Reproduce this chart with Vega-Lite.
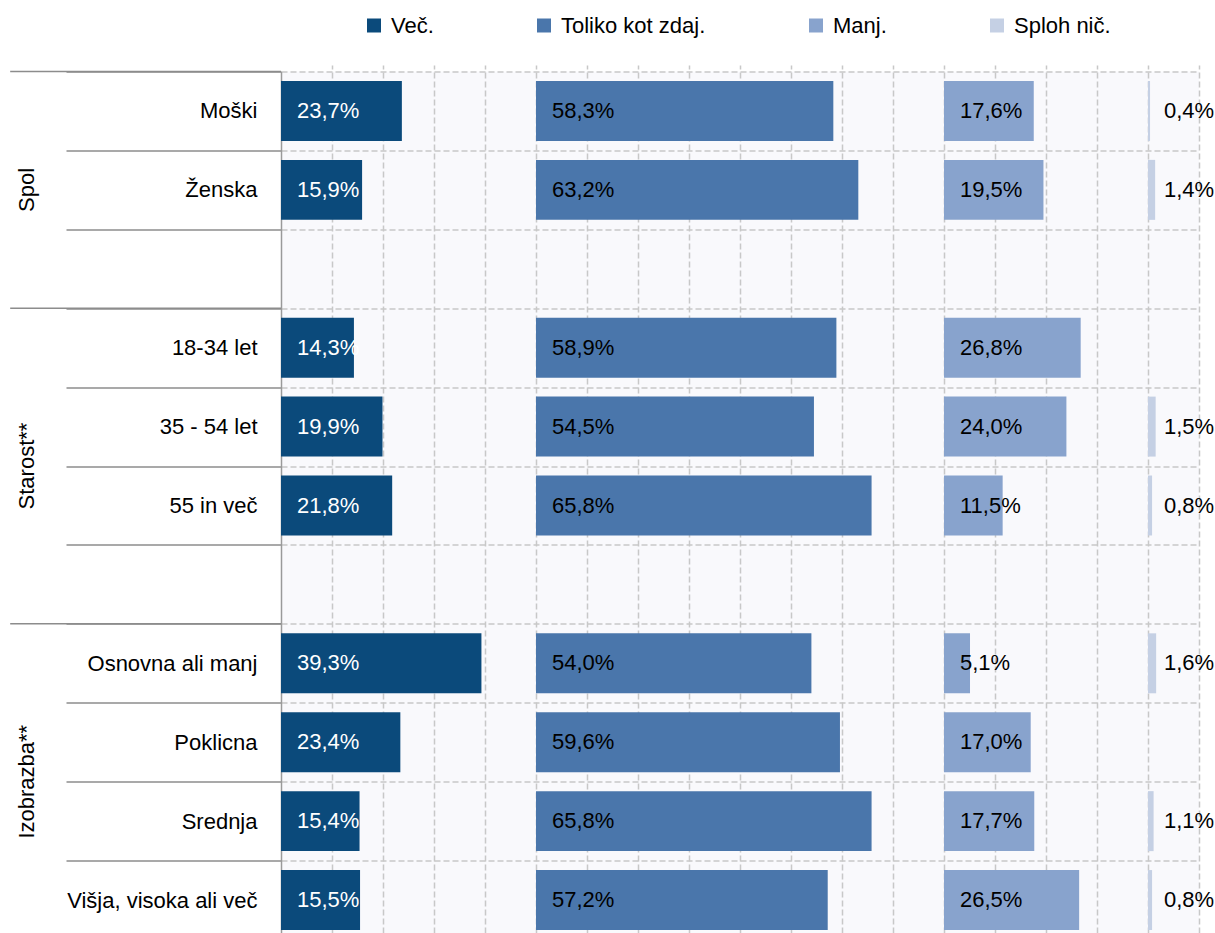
{
  "$schema": "https://vega.github.io/schema/vega-lite/v6.json",
  "width": 918,
  "height": 861.5,
  "autosize": {"type": "none"},
  "padding": {"left": 281, "top": 71.5, "right": 16, "bottom": 0},
  "background": "#ffffff",
  "config": {
    "font": "Liberation Sans",
    "view": {"fill": "#f9f9fc", "stroke": null},
    "locale": {"number": {"decimal": ",", "thousands": ".", "grouping": [3], "currency": ["", " €"]}}
  },
  "data": {
    "values": [
      {"label": "Moški", "series": "Več.", "value": 0.237},
      {"label": "Moški", "series": "Toliko kot zdaj.", "value": 0.583},
      {"label": "Moški", "series": "Manj.", "value": 0.176},
      {"label": "Moški", "series": "Sploh nič.", "value": 0.004},
      {"label": "Ženska", "series": "Več.", "value": 0.159},
      {"label": "Ženska", "series": "Toliko kot zdaj.", "value": 0.632},
      {"label": "Ženska", "series": "Manj.", "value": 0.195},
      {"label": "Ženska", "series": "Sploh nič.", "value": 0.014},
      {"label": "18-34 let", "series": "Več.", "value": 0.143},
      {"label": "18-34 let", "series": "Toliko kot zdaj.", "value": 0.589},
      {"label": "18-34 let", "series": "Manj.", "value": 0.268},
      {"label": "35 - 54 let", "series": "Več.", "value": 0.199},
      {"label": "35 - 54 let", "series": "Toliko kot zdaj.", "value": 0.545},
      {"label": "35 - 54 let", "series": "Manj.", "value": 0.240},
      {"label": "35 - 54 let", "series": "Sploh nič.", "value": 0.015},
      {"label": "55 in več", "series": "Več.", "value": 0.218},
      {"label": "55 in več", "series": "Toliko kot zdaj.", "value": 0.658},
      {"label": "55 in več", "series": "Manj.", "value": 0.115},
      {"label": "55 in več", "series": "Sploh nič.", "value": 0.008},
      {"label": "Osnovna ali manj", "series": "Več.", "value": 0.393},
      {"label": "Osnovna ali manj", "series": "Toliko kot zdaj.", "value": 0.540},
      {"label": "Osnovna ali manj", "series": "Manj.", "value": 0.051},
      {"label": "Osnovna ali manj", "series": "Sploh nič.", "value": 0.016},
      {"label": "Poklicna", "series": "Več.", "value": 0.234},
      {"label": "Poklicna", "series": "Toliko kot zdaj.", "value": 0.596},
      {"label": "Poklicna", "series": "Manj.", "value": 0.170},
      {"label": "Srednja", "series": "Več.", "value": 0.154},
      {"label": "Srednja", "series": "Toliko kot zdaj.", "value": 0.658},
      {"label": "Srednja", "series": "Manj.", "value": 0.177},
      {"label": "Srednja", "series": "Sploh nič.", "value": 0.011},
      {"label": "Višja, visoka ali več", "series": "Več.", "value": 0.155},
      {"label": "Višja, visoka ali več", "series": "Toliko kot zdaj.", "value": 0.572},
      {"label": "Višja, visoka ali več", "series": "Manj.", "value": 0.265},
      {"label": "Višja, visoka ali več", "series": "Sploh nič.", "value": 0.008}
    ]
  },
  "encoding": {
    "y": {
      "field": "label",
      "type": "nominal",
      "sort": null,
      "scale": {
        "domain": ["Moški", "Ženska", " ", "18-34 let", "35 - 54 let", "55 in več", "  ", "Osnovna ali manj", "Poklicna", "Srednja", "Višja, visoka ali več"],
        "range": [0, 868],
        "paddingInner": 0,
        "paddingOuter": 0
      },
      "axis": {
        "title": null,
        "tickBand": "extent",
        "domainColor": "#9a9a9a",
        "domainWidth": 1.5,
        "tickColor": "#8c8c8c",
        "tickWidth": 1.5,
        "tickSize": 215,
        "labelPadding": -191,
        "labelFontSize": 22,
        "labelColor": "#000000",
        "labelLimit": 400,
        "grid": true,
        "gridColor": "#c8c8c8",
        "gridDash": [6, 3],
        "gridWidth": 1.5
      }
    }
  },
  "layer": [
    {
      "transform": [
        {"filter": {"field": "series", "equal": "Več."}},
        {"filter": {"field": "label", "oneOf": ["Moški", "18-34 let", "Osnovna ali manj"]}}
      ],
      "mark": {"type": "rule", "color": "#8c8c8c", "strokeWidth": 1.5},
      "encoding": {
        "y": {"field": "label", "type": "nominal", "bandPosition": 0},
        "x": {"datum": -0.531, "type": "quantitative", "scale": {"domain": [0, 1.8], "nice": false, "zero": false}, "axis": null},
        "x2": {"datum": 0}
      }
    },
    {
      "data": {"values": [{"group": "Spol"}]},
      "mark": {"type": "text", "angle": 270, "fontSize": 22, "align": "center", "baseline": "middle", "color": "#000000"},
      "encoding": {
        "text": {"field": "group"},
        "x": {"datum": -0.499, "type": "quantitative", "scale": {"domain": [0, 1.8], "nice": false, "zero": false}, "axis": null},
        "y": {"datum": "Ženska", "type": "nominal"}
      }
    },
    {
      "data": {"values": [{"group": "Starost**"}]},
      "mark": {"type": "text", "angle": 270, "fontSize": 22, "align": "center", "baseline": "middle", "color": "#000000"},
      "encoding": {
        "text": {"field": "group"},
        "x": {"datum": -0.499, "type": "quantitative", "scale": {"domain": [0, 1.8], "nice": false, "zero": false}, "axis": null},
        "y": {"datum": "55 in več", "type": "nominal", "bandPosition": 0}
      }
    },
    {
      "data": {"values": [{"group": "Izobrazba**"}]},
      "mark": {"type": "text", "angle": 270, "fontSize": 22, "align": "center", "baseline": "middle", "color": "#000000"},
      "encoding": {
        "text": {"field": "group"},
        "x": {"datum": -0.499, "type": "quantitative", "scale": {"domain": [0, 1.8], "nice": false, "zero": false}, "axis": null},
        "y": {"datum": "Srednja", "type": "nominal", "bandPosition": 0}
      }
    },
    {
      "transform": [{"filter": {"field": "series", "equal": "Več."}}],
      "layer": [
        {
          "mark": {"type": "bar", "height": {"band": 0.76}},
          "encoding": {
            "x": {
              "field": "value", "type": "quantitative",
              "scale": {"domain": [0, 1.8], "nice": false, "zero": false},
              "axis": {"orient": "bottom", "values": [0.1, 0.2, 0.3, 0.4, 0.5, 0.6, 0.7, 0.8, 0.9, 1.0, 1.1, 1.2, 1.3, 1.4, 1.5, 1.6, 1.7, 1.8], "grid": true, "labels": false, "ticks": false, "domain": false, "title": null, "gridColor": "#c8c8c8", "gridDash": [6, 3], "gridWidth": 1.5}
            },
            "x2": {"datum": 0},
            "color": {
              "field": "series", "type": "nominal",
              "scale": {"domain": ["Več.", "Toliko kot zdaj.", "Manj.", "Sploh nič."], "range": ["#0b4a7b", "#4a76ab", "#88a3cd", "#c5d0e4"]},
              "legend": {"orient": "none", "legendX": 82, "legendY": -57, "direction": "horizontal", "columns": 4, "title": null, "symbolType": "square", "symbolSize": 196, "symbolStrokeWidth": 0, "symbolOpacity": 1, "labelFontSize": 22, "labelColor": "#000000", "labelOffset": 6, "columnPadding": 99, "labelLimit": 400, "padding": 0}
            }
          }
        },
        {
          "mark": {"type": "text", "align": "left", "baseline": "middle", "dx": 16, "fontSize": 22, "color": "#ffffff"},
          "encoding": {
            "x": {"datum": 0, "type": "quantitative"},
            "text": {"field": "value", "type": "quantitative", "format": ".1%"}
          }
        }
      ]
    },
    {
      "transform": [{"filter": {"field": "series", "equal": "Toliko kot zdaj."}}],
      "layer": [
        {
          "mark": {"type": "bar", "height": {"band": 0.76}},
          "encoding": {
            "x": {"field": "value", "type": "quantitative", "scale": {"domain": [-0.5, 1.3], "nice": false, "zero": false}, "axis": null},
            "x2": {"datum": 0},
            "color": {
              "field": "series", "type": "nominal",
              "scale": {"domain": ["Več.", "Toliko kot zdaj.", "Manj.", "Sploh nič."], "range": ["#0b4a7b", "#4a76ab", "#88a3cd", "#c5d0e4"]}
            }
          }
        },
        {
          "mark": {"type": "text", "align": "left", "baseline": "middle", "dx": 16, "fontSize": 22, "color": "#000000"},
          "encoding": {
            "x": {"datum": 0, "type": "quantitative"},
            "text": {"field": "value", "type": "quantitative", "format": ".1%"}
          }
        }
      ]
    },
    {
      "transform": [{"filter": {"field": "series", "equal": "Manj."}}],
      "layer": [
        {
          "mark": {"type": "bar", "height": {"band": 0.76}},
          "encoding": {
            "x": {"field": "value", "type": "quantitative", "scale": {"domain": [-1.3, 0.5], "nice": false, "zero": false}, "axis": null},
            "x2": {"datum": 0},
            "color": {
              "field": "series", "type": "nominal",
              "scale": {"domain": ["Več.", "Toliko kot zdaj.", "Manj.", "Sploh nič."], "range": ["#0b4a7b", "#4a76ab", "#88a3cd", "#c5d0e4"]}
            }
          }
        },
        {
          "mark": {"type": "text", "align": "left", "baseline": "middle", "dx": 16, "fontSize": 22, "color": "#000000"},
          "encoding": {
            "x": {"datum": 0, "type": "quantitative"},
            "text": {"field": "value", "type": "quantitative", "format": ".1%"}
          }
        }
      ]
    },
    {
      "transform": [{"filter": {"field": "series", "equal": "Sploh nič."}}],
      "layer": [
        {
          "mark": {"type": "bar", "height": {"band": 0.76}},
          "encoding": {
            "x": {"field": "value", "type": "quantitative", "scale": {"domain": [-1.7, 0.1], "nice": false, "zero": false}, "axis": null},
            "x2": {"datum": 0},
            "color": {
              "field": "series", "type": "nominal",
              "scale": {"domain": ["Več.", "Toliko kot zdaj.", "Manj.", "Sploh nič."], "range": ["#0b4a7b", "#4a76ab", "#88a3cd", "#c5d0e4"]}
            }
          }
        },
        {
          "mark": {"type": "text", "align": "left", "baseline": "middle", "dx": 16, "fontSize": 22, "color": "#000000"},
          "encoding": {
            "x": {"datum": 0, "type": "quantitative"},
            "text": {"field": "value", "type": "quantitative", "format": ".1%"}
          }
        }
      ]
    }
  ],
  "resolve": {"scale": {"x": "independent"}, "axis": {"x": "independent"}}
}
